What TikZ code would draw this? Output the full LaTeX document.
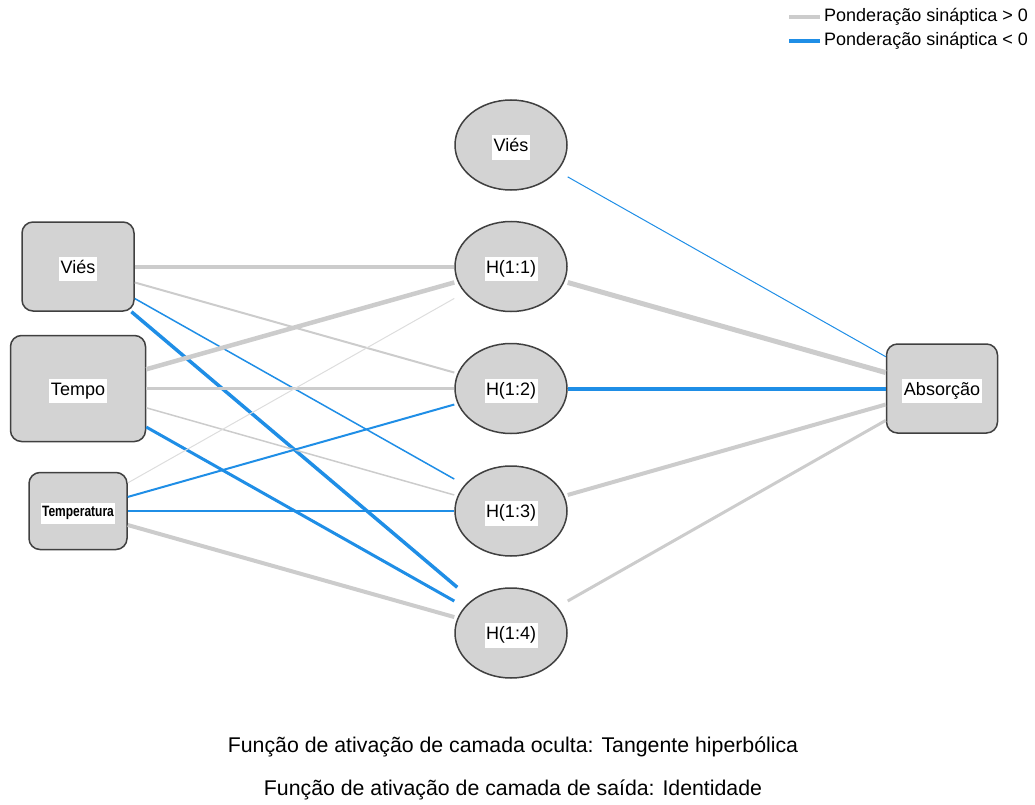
\documentclass[tikz,border=0pt]{standalone}
\usepackage{fontspec}
\setmainfont{Liberation Sans}
\usetikzlibrary{shapes.geometric}
\definecolor{posc}{HTML}{CCCCCC}
\definecolor{posl}{HTML}{DDDDDD}
\definecolor{negc}{HTML}{1F8EE6}
\definecolor{nodefill}{HTML}{D3D3D3}
\definecolor{nodeline}{HTML}{404040}
\newcommand{\nlbl}[1]{\raisebox{-2.5pt}[\height][\depth]{\setlength{\fboxsep}{1.5pt}\colorbox{white}{\strut #1}}}
\tikzset{
  lblfont/.style={font=\fontsize{18}{21.6}\selectfont},
  inbox/.style={draw=nodeline, line width=1.5pt, fill=nodefill, rounded corners=11pt, inner sep=0pt, lblfont},
  hid/.style={ellipse, draw=nodeline, line width=1.5pt, fill=nodefill, minimum width=112pt, minimum height=90pt, inner sep=0pt, lblfont},
  hidclip/.style={rectangle, draw=none, minimum width=113pt, minimum height=91pt, inner sep=0pt},
  pos/.style={draw=posc, line width=#1},
  posthin/.style={draw=posl, line width=#1},
  neg/.style={draw=negc, line width=#1},
}
\begin{document}
\begin{tikzpicture}[x=1pt,y=-1pt]
\useasboundingbox (0,0) rectangle (1035,805);
% input layer
\node[inbox, minimum width=112pt, minimum height=89pt] (inV) at (78,266.5) {\nlbl{Viés}};
\node[inbox, minimum width=135pt, minimum height=106pt] (inT) at (78,388.5) {\nlbl{Tempo}};
\node[inbox, minimum width=98pt, minimum height=77pt] (inTe) at (78,511) {\raisebox{-2pt}[\height][\depth]{\setlength{\fboxsep}{1.5pt}\colorbox{white}{\fontsize{15}{18}\selectfont\strut\scalebox{0.8}[1]{\bfseries Temperatura}}}};
% hidden layer (ellipses) and their bounding boxes used by connectors
\node[hid] (hB) at (511,145) {\nlbl{Viés}};
\node[hid] (h1) at (511,266.5) {\nlbl{H(1:1)}};
\node[hid] (h2) at (511,388.5) {\nlbl{H(1:2)}};
\node[hid] (h3) at (511,511) {\nlbl{H(1:3)}};
\node[hid] (h4) at (511,633) {\nlbl{H(1:4)}};
\node[hidclip] (hBr) at (hB) {};
\node[hidclip] (h1r) at (h1) {};
\node[hidclip] (h2r) at (h2) {};
\node[hidclip] (h3r) at (h3) {};
\node[hidclip] (h4r) at (h4) {};
% output
\node[inbox, minimum width=111pt, minimum height=89pt] (out) at (942,388.5) {\nlbl{Absorção}};
% connectors input -> hidden
\draw[pos=4pt] (inV) -- (h1r);
\draw[pos=2pt] (inV) -- (h2r);
\draw[neg=1.5pt] (inV) -- (h3r);
\draw[neg=3.5pt] (inV) -- (h4r);
\draw[pos=4.5pt] (inT) -- (h1r);
\draw[pos=3pt] (inT) -- (h2r);
\draw[pos=1.5pt] (inT) -- (h3r);
\draw[neg=3pt] (inT) -- (h4r);
\draw[posthin=1pt] (inTe) -- (h1r);
\draw[neg=2pt] (inTe) -- (h2r);
\draw[neg=2.5pt] (inTe) -- (h3r);
\draw[pos=4pt] (inTe) -- (h4r);
% hidden -> output
\draw[neg=1pt] (hBr) -- (out);
\draw[pos=5pt] (h1r) -- (out);
\draw[neg=4pt] (h2r) -- (out);
\draw[pos=4pt] (h3r) -- (out);
\draw[pos=3pt] (h4r) -- (out);
% legend
\coordinate (lg1a) at (789,17); \coordinate (lg1b) at (820,17);
\coordinate (lg2a) at (789,41); \coordinate (lg2b) at (820,41);
\draw[pos=4pt] (lg1a) -- (lg1b);
\draw[neg=4pt] (lg2a) -- (lg2b);
\node[anchor=west, inner sep=0pt, font=\fontsize{18}{21.6}\selectfont] (lgt1) at (824,17) {Ponderação sináptica > 0};
\node[anchor=west, inner sep=0pt, font=\fontsize{18}{21.6}\selectfont] (lgt2) at (824,41) {Ponderação sináptica < 0};
% footer
\node[inner sep=0pt, font=\fontsize{21.3}{25}\selectfont] (f1) at (513,747) {Função de ativação de camada oculta: Tangente hiperbólica};
\node[inner sep=0pt, font=\fontsize{21.3}{25}\selectfont] (f2) at (513,790) {Função de ativação de camada de saída: Identidade};
\end{tikzpicture}
\end{document}
